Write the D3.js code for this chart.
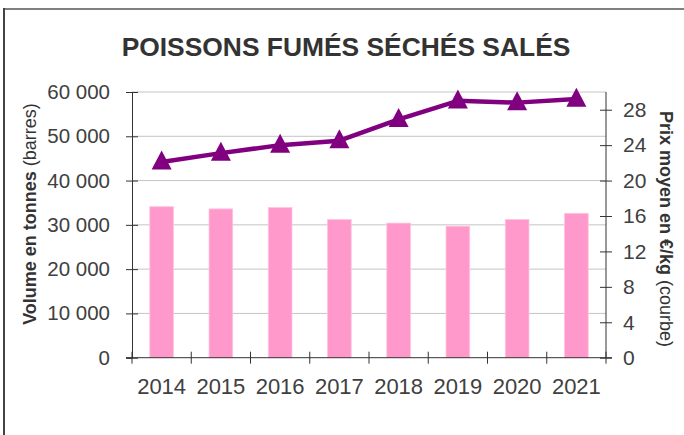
<!DOCTYPE html>
<html><head><meta charset="utf-8">
<script src="https://cdn.jsdelivr.net/npm/d3@7"></script>
<style>html,body{margin:0;padding:0;background:#fff;}svg{display:block;font-family:"Liberation Sans",Arial,sans-serif;}</style>
</head><body>
<svg id="c" width="684" height="435"></svg>
<script>
const years = ["2014","2015","2016","2017","2018","2019","2020","2021"];
const volumes = [34100, 33600, 33900, 31200, 30400, 29700, 31200, 32600];
const prices = [22.1, 23.1, 24.0, 24.5, 26.9, 29.0, 28.8, 29.2];
const volumeTicks = [0, 10000, 20000, 30000, 40000, 50000, 60000];
const priceTicks = [0, 4, 8, 12, 16, 20, 24, 28];
const title = "POISSONS FUMÉS SÉCHÉS SALÉS";

const svg = d3.select("#c");
const L = 132, R = 606, T = 92, B = 357.7;
const txt = "#404040";

// frame
svg.append("line").attr("x1",3).attr("x2",684).attr("y1",9).attr("y2",9).attr("stroke","#808080").attr("stroke-width",2);
svg.append("line").attr("x1",4).attr("x2",4).attr("y1",8).attr("y2",435).attr("stroke","#444").attr("stroke-width",2);

const x = d3.scaleBand().domain(years).range([L,R]).paddingInner(0.6).paddingOuter(0.3);
const yL = d3.scaleLinear().domain([0,60000]).range([B,T]);
const yR = d3.scaleLinear().domain([0,30]).range([B,T]);
const fr = d3.formatLocale({decimal:",",thousands:"\u00a0",grouping:[3],currency:["","€"]});
const fmt = fr.format(",d");

// gridlines
svg.append("g").selectAll("line").data(volumeTicks.filter(d=>d>0)).join("line")
  .attr("x1",L).attr("x2",R).attr("y1",d=>yL(d)).attr("y2",d=>yL(d))
  .attr("stroke","#c4c4c4").attr("stroke-width",1);

// bars
svg.append("g").selectAll("rect").data(volumes).join("rect")
  .attr("x",(d,i)=>x(years[i])).attr("width",x.bandwidth())
  .attr("y",d=>yL(d)).attr("height",d=>B-yL(d))
  .attr("fill","#ff99cc").attr("stroke","#ffc4e0").attr("stroke-width",0.8);

// left axis
const gl = svg.append("g").attr("transform",`translate(${L},0)`)
  .call(d3.axisLeft(yL).tickValues(volumeTicks).tickFormat(fmt).tickSize(6).tickPadding(16));
gl.select(".domain").attr("stroke","#333");
gl.selectAll(".tick line").attr("x1",-6).attr("x2",6).attr("stroke","#333");
gl.selectAll("text").attr("font-size",20.5).attr("fill",txt).attr("font-family","Liberation Sans, Arial, sans-serif");

// right axis
const gr = svg.append("g").attr("transform",`translate(${R},0)`)
  .call(d3.axisRight(yR).tickValues(priceTicks).tickSize(6).tickPadding(11));
gr.select(".domain").attr("stroke","#333").attr("d",`M0,${T}V${B}`);
gr.selectAll(".tick line").attr("x1",-6).attr("x2",6).attr("stroke","#333");
gr.selectAll("text").attr("font-size",21).attr("fill",txt).attr("font-family","Liberation Sans, Arial, sans-serif");

// bottom axis
const boundaries = d3.range(years.length+1).map(i=>L + i*x.step());
svg.append("line").attr("x1",L-6).attr("x2",R+6).attr("y1",B).attr("y2",B).attr("stroke","#333");
svg.append("g").selectAll("line").data(boundaries).join("line")
  .attr("x1",d=>d).attr("x2",d=>d).attr("y1",B-6).attr("y2",B+6).attr("stroke","#333");
svg.append("g").selectAll("text").data(years).join("text")
  .attr("x",d=>x(d)+x.bandwidth()/2).attr("y",394).attr("text-anchor","middle")
  .attr("font-size",22).attr("fill",txt).text(d=>d);

// price line
const cx = (i)=>x(years[i])+x.bandwidth()/2;
svg.append("path").datum(prices)
  .attr("d",d3.line().x((d,i)=>cx(i)).y(d=>yR(d)))
  .attr("fill","none").attr("stroke","#800080").attr("stroke-width",4.5).attr("stroke-linejoin","round");
const tri = (w,h)=>`M0,${-h*0.6}L${w/2},${h*0.4}L${-w/2},${h*0.4}Z`;
svg.append("g").selectAll("path").data(prices).join("path")
  .attr("transform",(d,i)=>`translate(${cx(i)},${yR(d)})`)
  .attr("d",tri(20,19)).attr("fill","#800080");

// title
svg.append("text").attr("x",346).attr("y",55.7).attr("text-anchor","middle")
  .attr("font-size",26.4).attr("font-weight","bold").attr("fill","#333").text(title);

// axis titles
const lt = svg.append("text").attr("transform","translate(36,214) rotate(-90)").attr("text-anchor","middle")
  .attr("font-size",18).attr("fill","#333");
lt.append("tspan").attr("font-weight","bold").text("Volume en tonnes ");
lt.append("tspan").text("(barres)");
const rt = svg.append("text").attr("transform","translate(660,229) rotate(90)").attr("text-anchor","middle")
  .attr("font-size",18).attr("fill","#333");
rt.append("tspan").attr("font-weight","bold").text("Prix moyen en €/kg ");
rt.append("tspan").text("(courbe)");
</script>
</body></html>
